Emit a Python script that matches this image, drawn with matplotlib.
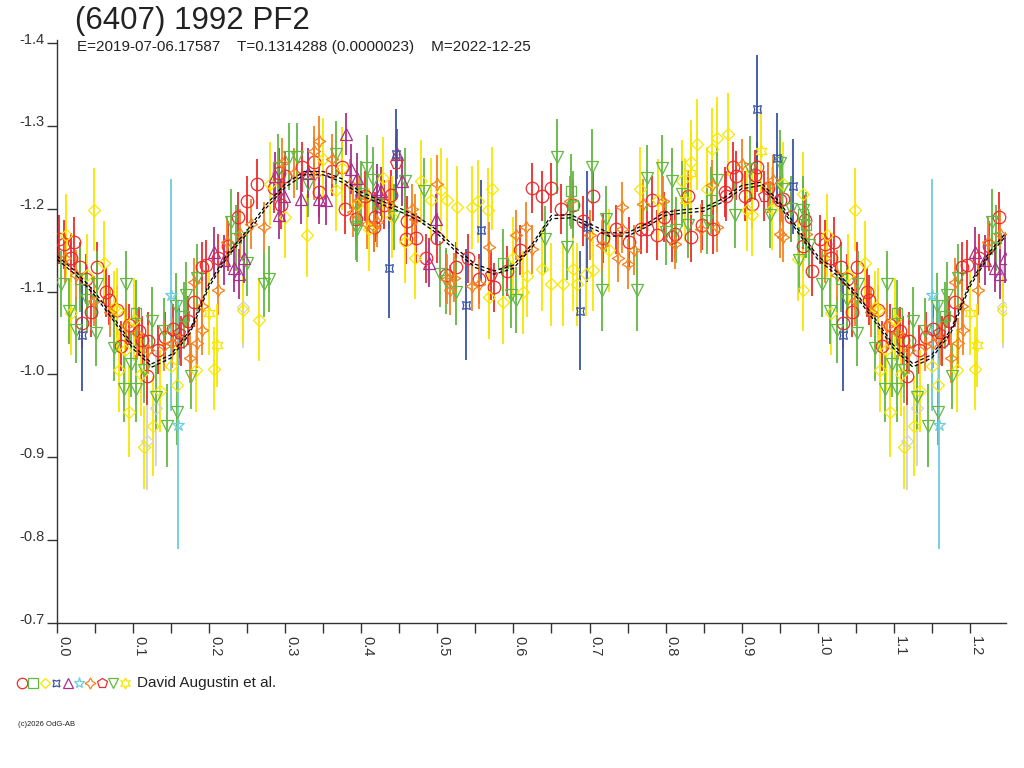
import numpy as np
import matplotlib
matplotlib.use("Agg")
import matplotlib.pyplot as plt
from matplotlib.lines import Line2D
from matplotlib.transforms import ScaledTranslation

plt.rcParams['font.family'] = ['Liberation Sans', 'DejaVu Sans']

# fitted curve, phase 0..1 (repeated to 1.25)
curve_phase = [0.000, 0.025, 0.050, 0.075, 0.100, 0.125, 0.150, 0.175, 0.200, 0.225,
               0.250, 0.275, 0.300, 0.325, 0.350, 0.375, 0.400, 0.425, 0.450, 0.475,
               0.500, 0.525, 0.550, 0.575, 0.600, 0.625, 0.650, 0.675, 0.700, 0.725,
               0.750, 0.775, 0.800, 0.825, 0.850, 0.875, 0.900, 0.925, 0.950, 0.975, 1.000]
curve_mag = [-1.141, -1.122, -1.097, -1.066, -1.033, -1.011, -1.022, -1.052, -1.108, -1.145,
             -1.172, -1.203, -1.228, -1.243, -1.243, -1.234, -1.218, -1.208, -1.199, -1.188,
             -1.172, -1.150, -1.131, -1.123, -1.130, -1.156, -1.190, -1.191, -1.180, -1.169,
             -1.169, -1.180, -1.194, -1.197, -1.199, -1.210, -1.226, -1.230, -1.206, -1.172, -1.141]

# red circles
rc_ph = [0.003, 0.009, 0.018, 0.022, 0.030, 0.033, 0.038, 0.045, 0.052, 0.065, 0.068, 0.079,
         0.084, 0.095, 0.108, 0.112, 0.118, 0.120, 0.133, 0.142, 0.152, 0.163, 0.172, 0.180,
         0.190, 0.196, 0.212, 0.225, 0.238, 0.250, 0.263, 0.285, 0.292, 0.295, 0.300, 0.322,
         0.338, 0.345, 0.362, 0.375, 0.378, 0.393, 0.405, 0.417, 0.418, 0.430, 0.439, 0.459,
         0.460, 0.472, 0.485, 0.500, 0.512, 0.525, 0.540, 0.555, 0.575, 0.592, 0.608, 0.625,
         0.638, 0.650, 0.663, 0.678, 0.692, 0.705, 0.718, 0.735, 0.752, 0.768, 0.776, 0.782,
         0.789, 0.798, 0.809, 0.812, 0.830, 0.834, 0.848, 0.862, 0.878, 0.880, 0.888, 0.892,
         0.905, 0.913, 0.917, 0.920, 0.935, 0.950, 0.954, 0.965, 0.980, 0.983, 0.992]
rc_mag = [-1.163, -1.157, -1.141, -1.160, -1.130, -1.062, -1.115, -1.075, -1.130, -1.099, -1.090, -1.078,
          -1.034, -1.060, -1.052, -1.041, -0.998, -1.040, -1.030, -1.045, -1.055, -1.040, -1.065, -1.087,
          -1.130, -1.132, -1.140, -1.155, -1.190, -1.209, -1.230, -1.225, -1.243, -1.205, -1.240, -1.250,
          -1.257, -1.220, -1.245, -1.251, -1.200, -1.188, -1.215, -1.178, -1.190, -1.205, -1.217, -1.163,
          -1.185, -1.165, -1.140, -1.165, -1.120, -1.130, -1.140, -1.115, -1.105, -1.125, -1.150, -1.225,
          -1.215, -1.225, -1.200, -1.205, -1.185, -1.215, -1.165, -1.175, -1.160, -1.175, -1.176, -1.210,
          -1.168, -1.190, -1.166, -1.170, -1.215, -1.166, -1.180, -1.175, -1.220, -1.215, -1.251, -1.240,
          -1.215, -1.206, -1.241, -1.250, -1.225, -1.210, -1.212, -1.190, -1.155, -1.187, -1.125]
rc_err = [0.030] * 13 + [0.025, 0.030, 0.030, 0.035, 0.035] + [0.030] * 77

# green squares
gs_ph = [0.030, 0.104, 0.167, 0.235, 0.290, 0.586, 0.676, 0.678, 0.860, 0.980, 0.985]
gs_mag = [-1.115, -1.074, -1.071, -1.165, -1.250, -1.135, -1.221, -1.205, -1.210, -1.194, -1.180]
gs_err = [0.040, 0.040, 0.040, 0.040, 0.040, 0.040, 0.045, 0.040, 0.040, 0.040, 0.040]

# yellow diamonds
yd_ph = [0.012, 0.018, 0.040, 0.049, 0.062, 0.075, 0.079, 0.082, 0.090, 0.095, 0.101, 0.110,
         0.114, 0.126, 0.135, 0.150, 0.158, 0.183, 0.207, 0.244, 0.266, 0.280, 0.300, 0.328,
         0.350, 0.367, 0.374, 0.395, 0.410, 0.428, 0.440, 0.458, 0.470, 0.479, 0.492, 0.505,
         0.513, 0.526, 0.546, 0.553, 0.566, 0.568, 0.572, 0.586, 0.600, 0.612, 0.618, 0.638,
         0.650, 0.665, 0.678, 0.683, 0.696, 0.704, 0.725, 0.766, 0.790, 0.822, 0.834, 0.841,
         0.854, 0.861, 0.867, 0.882, 0.907, 0.913, 0.940, 0.955, 0.974, 0.980, 0.980]
yd_mag = [-1.168, -1.074, -1.120, -1.199, -1.135, -1.080, -1.078, -1.005, -1.030, -0.955, -1.066, -1.000,
          -0.912, -0.938, -0.980, -1.010, -0.987, -1.005, -1.007, -1.078, -1.066, -1.230, -1.190, -1.168,
          -1.260, -1.223, -1.249, -1.205, -1.175, -1.237, -1.190, -1.160, -1.141, -1.233, -1.211, -1.223,
          -1.211, -1.202, -1.202, -1.209, -1.199, -1.093, -1.224, -1.087, -1.140, -1.099, -1.119, -1.127,
          -1.109, -1.109, -1.127, -1.109, -1.121, -1.126, -1.150, -1.224, -1.210, -1.233, -1.257, -1.278,
          -1.224, -1.272, -1.285, -1.290, -1.199, -1.193, -1.200, -1.230, -1.139, -1.218, -1.102]
yd_err = ([0.050] * 5 + [0.045] + [0.050] * 3 + [0.055] + [0.050] * 3 + [0.060] + [0.050] * 5
          + [0.040] + [0.050] * 39 + [0.055] + [0.050] * 11)

# blue bowties
bb_ph = [0.033, 0.437, 0.446, 0.538, 0.558, 0.687, 0.697, 0.920, 0.947, 0.967]
bb_mag = [-1.048, -1.129, -1.266, -1.084, -1.174, -1.077, -1.178, -1.320, -1.261, -1.227]
bb_err = [0.068, 0.061, 0.055, 0.067, 0.061, 0.072, 0.067, 0.066, 0.055, 0.057]

# purple triangles
pt_ph = [0.207, 0.220, 0.233, 0.239, 0.246, 0.286, 0.292, 0.299, 0.321, 0.330, 0.345, 0.354,
         0.380, 0.387, 0.395, 0.420, 0.426, 0.447, 0.454, 0.489, 0.498]
pt_mag = [-1.148, -1.138, -1.129, -1.121, -1.140, -1.239, -1.193, -1.215, -1.212, -1.243, -1.212, -1.211,
          -1.290, -1.248, -1.237, -1.224, -1.221, -1.266, -1.233, -1.135, -1.188]
pt_err = [0.030] * 12 + [0.025] + [0.030] * 8

# cyan stars
cs_ph = [0.150, 0.159]
cs_mag = [-1.096, -0.939]
cs_err = [0.140, 0.150]

# orange four-point stars
os_ph = [0.010, 0.025, 0.049, 0.070, 0.091, 0.105, 0.120, 0.141, 0.151, 0.161, 0.175, 0.180,
         0.184, 0.190, 0.191, 0.211, 0.224, 0.240, 0.255, 0.272, 0.296, 0.312, 0.338, 0.338,
         0.345, 0.361, 0.385, 0.389, 0.397, 0.408, 0.417, 0.420, 0.437, 0.467, 0.470, 0.500,
         0.513, 0.516, 0.522, 0.545, 0.555, 0.568, 0.604, 0.617, 0.625, 0.674, 0.700, 0.717,
         0.737, 0.743, 0.743, 0.750, 0.759, 0.770, 0.796, 0.812, 0.847, 0.861, 0.867, 0.901,
         0.934, 0.941, 0.950, 0.954, 0.985]
os_mag = [-1.140, -1.120, -1.089, -1.075, -1.058, -1.050, -1.030, -1.034, -1.038, -1.041, -1.020, -1.111,
          -1.038, -1.083, -1.054, -1.102, -1.160, -1.170, -1.182, -1.178, -1.255, -1.243, -1.270, -1.241,
          -1.282, -1.260, -1.230, -1.196, -1.210, -1.182, -1.178, -1.184, -1.205, -1.200, -1.188, -1.230,
          -1.115, -1.102, -1.117, -1.107, -1.109, -1.154, -1.168, -1.178, -1.151, -1.209, -1.168, -1.156,
          -1.141, -1.202, -1.176, -1.133, -1.150, -1.206, -1.209, -1.157, -1.176, -1.229, -1.178, -1.254,
          -1.227, -1.235, -1.170, -1.166, -1.170]
os_err = [0.030] * 35 + [0.035] + [0.030] * 29

# red pentagons
rp_ph = [0.160, 0.445, 0.570, 0.930]
rp_mag = [-1.050, -1.255, -1.120, -1.215]
rp_err = [0.030, 0.030, 0.030, 0.030]

# green down triangles
gt_ph = [0.005, 0.016, 0.025, 0.039, 0.051, 0.053, 0.075, 0.088, 0.091, 0.097, 0.104, 0.114,
         0.125, 0.130, 0.141, 0.145, 0.157, 0.158, 0.170, 0.176, 0.184, 0.229, 0.250, 0.272,
         0.279, 0.305, 0.316, 0.330, 0.367, 0.393, 0.395, 0.400, 0.407, 0.415, 0.421, 0.443,
         0.457, 0.483, 0.503, 0.511, 0.525, 0.597, 0.604, 0.641, 0.657, 0.670, 0.703, 0.717,
         0.722, 0.762, 0.775, 0.795, 0.801, 0.808, 0.814, 0.821, 0.829, 0.855, 0.868, 0.891,
         0.911, 0.937, 0.950, 0.953, 0.965, 0.976, 0.980, 0.989]
gt_mag = [-1.109, -1.077, -1.054, -1.090, -1.050, -1.109, -1.032, -0.983, -1.109, -1.013, -0.983, -1.005,
          -1.065, -0.973, -1.052, -0.938, -1.083, -0.955, -1.096, -0.998, -1.117, -1.184, -1.135, -1.109,
          -1.115, -1.263, -1.263, -1.230, -1.266, -1.178, -1.176, -1.218, -1.249, -1.235, -1.206, -1.190,
          -1.233, -1.221, -1.121, -1.113, -1.100, -1.096, -1.090, -1.163, -1.263, -1.154, -1.251, -1.102,
          -1.188, -1.102, -1.237, -1.249, -1.172, -1.233, -1.174, -1.218, -1.180, -1.185, -1.235, -1.193,
          -1.248, -1.193, -1.255, -1.224, -1.200, -1.138, -1.199, -1.156]
gt_err = ([0.040] * 15 + [0.050] + [0.040] * 28 + [0.045, 0.040, 0.045, 0.050, 0.040, 0.050]
          + [0.040] * 18)

# yellow six-point stars
ys_ph = [0.200, 0.210, 0.825, 0.834, 0.926]
ys_mag = [-1.074, -1.035, -1.211, -1.243, -1.270]
ys_err = [0.050, 0.050, 0.050, 0.050, 0.050]

# light grey diamonds
gd_ph = [0.118, 0.130, 0.244]
gd_mag = [-0.920, -0.960, -1.082]
gd_err = [0.060, 0.070, 0.050]

RED = "#ee2b2b"
GREEN = "#62b843"
YELLOW = "#f7e600"
BLUE = "#3a55a6"
PURPLE = "#a8308c"
CYAN = "#6ccde0"
ORANGE = "#f5821f"
GREY = "#d2d2d2"

series = [
    (gd_ph, gd_mag, gd_err, "D", GREY, 6),
    (rc_ph, rc_mag, rc_err, "o", RED, 9),
    (yd_ph, yd_mag, yd_err, "D", YELLOW, 6.5),
    (gt_ph, gt_mag, gt_err, "v", GREEN, 8),
    (os_ph, os_mag, os_err, (4, 1, 0), ORANGE, 9),
    (gs_ph, gs_mag, gs_err, "s", GREEN, 7.5),
    (pt_ph, pt_mag, pt_err, "^", PURPLE, 8),
    (rp_ph, rp_mag, rp_err, "p", RED, 8.5),
    (bb_ph, bb_mag, bb_err, (4, 1, 45), BLUE, 8),
    (cs_ph, cs_mag, cs_err, "*", CYAN, 9),
    (ys_ph, ys_mag, ys_err, (6, 1, 0), YELLOW, 9),
]

XMAX = 1.2475

fig = plt.figure(figsize=(10.24, 7.68), dpi=100)
ax = fig.add_axes([57 / 1024, 1 - 623 / 768, (1006 - 57) / 1024, (623 - 40) / 768])

for ph, mag, err, mk, col, ms in series:
    ph = np.array(ph)
    mag = np.array(mag)
    err = np.array(err)
    rep = ph + 1 <= XMAX
    x = np.concatenate([ph, ph[rep] + 1])
    y = np.concatenate([mag, mag[rep]])
    e = np.concatenate([err, err[rep]])
    ax.errorbar(x, y, yerr=e, fmt="none", ecolor=col, elinewidth=1.3, capsize=0, zorder=2)
    ax.plot(x, y, linestyle="none", marker=mk, ms=ms, mfc="none", mec=col, mew=0.9, zorder=3)

cp = np.array(curve_phase)
cm = np.array(curve_mag)
rep = cp[1:] + 1 <= XMAX + 0.03
cx = np.concatenate([cp, cp[1:][rep] + 1])
cy = np.concatenate([cm, cm[1:][rep]])
for off in (-0.002, 0.002):
    ax.plot(cx, cy + off, color="black", lw=0.9, ls=(0, (3, 2)), zorder=4)

ax.set_xlim(0, XMAX)
ax.set_ylim(-0.7073, -1.4037)
ax.set_xticks(np.arange(0, 1.25, 0.1))
ax.set_xticks(np.arange(0.05, 1.25, 0.1), minor=True)
ax.set_xticklabels([f"{v:.1f}" for v in np.arange(0, 1.25, 0.1)])
ax.set_yticks(np.arange(-1.4, -0.65, 0.1))
ax.set_yticklabels([f"{v:.1f}" for v in np.arange(-1.4, -0.65, 0.1)])

for s in ("top", "right"):
    ax.spines[s].set_visible(False)
for s in ("left", "bottom"):
    ax.spines[s].set_color("#333333")
    ax.spines[s].set_linewidth(1.0)

ax.tick_params(axis="x", which="both", length=7, width=1, color="#333333",
               labelsize=10.5, labelrotation=270, pad=2, labelcolor="#333333")
ax.tick_params(axis="y", length=7, width=1, color="#333333", labelsize=10.5, pad=2,
               labelcolor="#333333")

shift_x = ScaledTranslation(6 / 100, 0, fig.dpi_scale_trans)
for lab in ax.get_xticklabels():
    lab.set_transform(lab.get_transform() + shift_x)
shift_y = ScaledTranslation(0, 5 / 100, fig.dpi_scale_trans)
for lab in ax.get_yticklabels():
    lab.set_transform(lab.get_transform() + shift_y)

fig.text(75 / 1024, 1 - 21 / 768, "(6407) 1992 PF2", fontsize=22.5, va="center", ha="left", color="#222222")
fig.text(77 / 1024, 1 - 47 / 768,
         "E=2019-07-06.17587    T=0.1314288 (0.0000023)    M=2022-12-25",
         fontsize=11, va="center", ha="left", color="#222222")

# legend row
leg_markers = [("o", RED, 7.5), ("s", GREEN, 6.5), ("D", YELLOW, 5.5), ((4, 1, 45), BLUE, 7),
               ("^", PURPLE, 7), ("*", CYAN, 8), ((4, 1, 0), ORANGE, 8), ("p", RED, 7.5),
               ("v", GREEN, 7), ((6, 1, 0), YELLOW, 8)]
for i, (mk, col, ms) in enumerate(leg_markers):
    xpix = 22 + i * 11.4
    fig.add_artist(Line2D([xpix / 1024], [1 - 683 / 768], transform=fig.transFigure,
                          marker=mk, ms=ms, mfc="none", mec=col, mew=0.9, linestyle="none"))
fig.text(137 / 1024, 1 - 683 / 768, "David Augustin et al.", fontsize=11, va="center", ha="left",
         color="#222222")
fig.text(18 / 1024, 1 - 725 / 768, "(c)2026 OdG-AB", fontsize=5.5, va="center", ha="left",
         color="#222222")

fig.savefig("out.png", dpi=100)
